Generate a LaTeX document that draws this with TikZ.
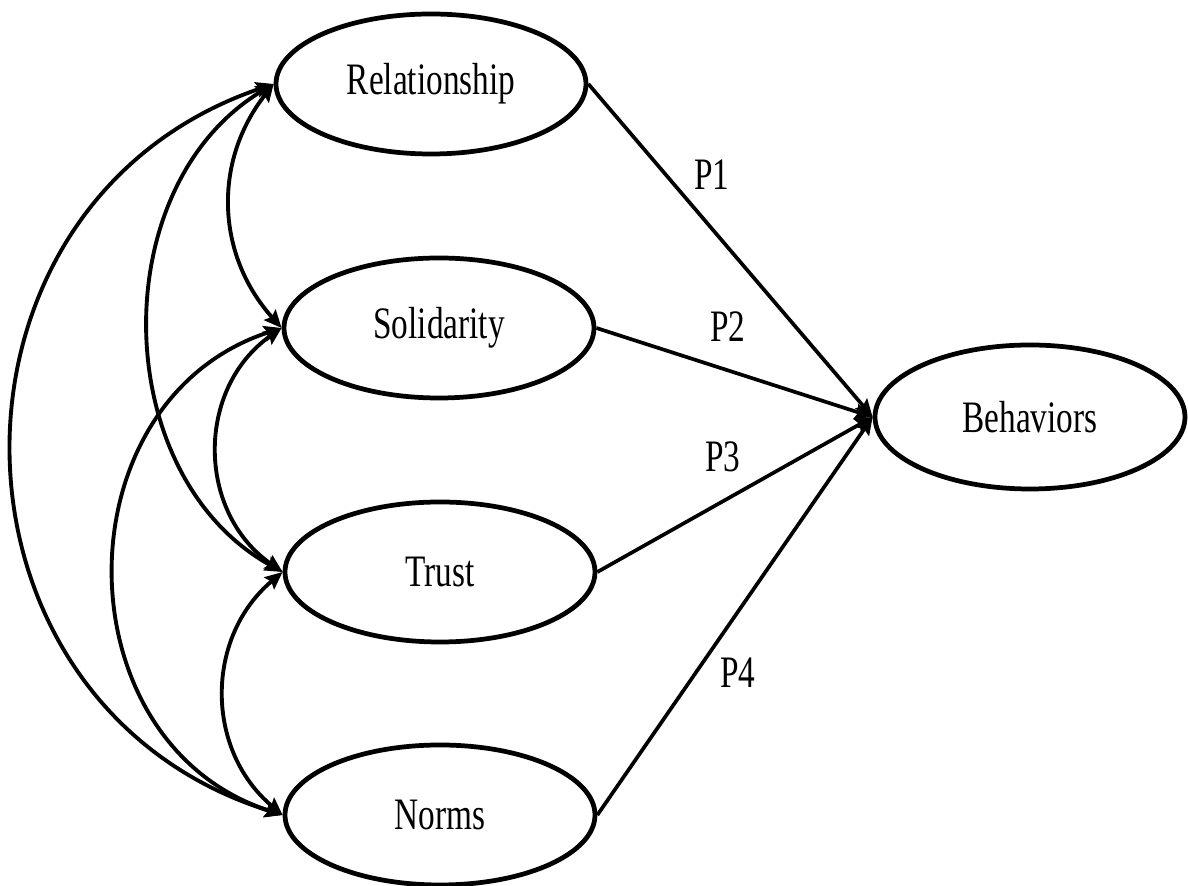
\documentclass[tikz,border=0pt]{standalone}
\usepackage{fontspec}
\setmainfont{Liberation Serif}[FakeStretch=0.74]
\usetikzlibrary{arrows.meta}
\usetikzlibrary{shapes.geometric}

\tikzset{
 construct/.style={ellipse, draw=black, line width=1.35pt, minimum width=3.1cm, minimum height=1.4cm, inner sep=0, font=\fontsize{12.8}{14}\selectfont},
 path/.style={black, line width=1.05pt, -{Stealth[length=5pt, width=4.4pt, inset=0.8pt]}},
 covary/.style={black, line width=1.1pt, {Stealth[length=5pt, width=4.4pt, inset=0.8pt]}-{Stealth[length=5pt, width=4.4pt, inset=0.8pt]}},
 plabel/.style={font=\fontsize{12.8}{14}\selectfont, inner sep=1}
}

\begin{document}
\begin{tikzpicture}
\useasboundingbox (0,0) rectangle (11.88,8.86);
\node[construct] (rel)   at (4.31,8.02) {Relationship};
\node[construct] (sol)   at (4.39,5.58) {Solidarity};
\node[construct] (trust) at (4.40,3.14) {Trust};
\node[construct] (norms) at (4.40,0.71) {Norms};
\node[construct, minimum height=1.44cm] (beh) at (10.30,4.69) {Behaviors};
% paths to the outcome
\draw[path] (rel.east)   -- (beh.west);
\draw[path] (sol.east)   -- (beh.west);
\draw[path] (trust.east) -- (beh.west);
\draw[path] (norms.east) -- (beh.west);
\node[plabel] (p1) at (7.12,7.11) {P1};
\node[plabel] (p2) at (7.28,5.59) {P2};
\node[plabel] (p3) at (7.23,4.29) {P3};
\node[plabel] (p4) at (7.38,2.13) {P4};
% correlations on the left
\draw[covary] (rel.west)   to[bend right=40, looseness=1.03] (sol.west);
\draw[covary] (sol.west)   to[bend right=55, looseness=1.10] (trust.west);
\draw[covary] (trust.west) to[bend right=50, looseness=1.07] (norms.west);
\draw[covary] (rel.west)   to[bend right=60, looseness=1.04] (trust.west);
\draw[covary] (sol.west)   to[bend right=72, looseness=1.23] (norms.west);
\draw[covary] (rel.west)   to[bend right=72, looseness=1.30] (norms.west);
\end{tikzpicture}
\end{document}
